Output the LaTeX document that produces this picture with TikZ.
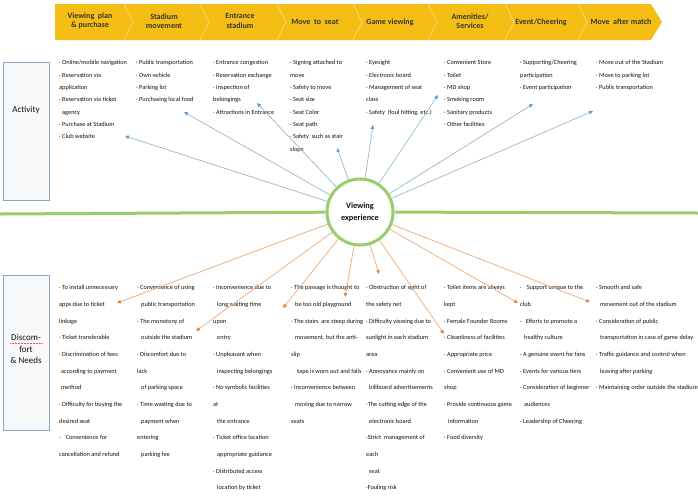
\documentclass[tikz,border=0pt]{standalone}
\usepackage{fontspec}
\setmainfont{Carlito}
\usetikzlibrary{arrows.meta}
\definecolor{hdrY}{HTML}{F5BE15}
\definecolor{hdrSep}{HTML}{F9D870}
\definecolor{boxB}{HTML}{8AA6C4}
\definecolor{boxF}{HTML}{F7F8FA}
\definecolor{ringG}{HTML}{9BCB6A}
\definecolor{blueL}{HTML}{9FBFD8}
\definecolor{blueH}{HTML}{5B9BD5}
\definecolor{orgL}{HTML}{F2B184}
\definecolor{orgH}{HTML}{ED7D31}
\definecolor{txt}{HTML}{111111}
\newcommand\fstrut{\rule{0pt}{4.7pt}}
\begin{document}
\begin{tikzpicture}[x=1pt,y=-1pt,
  hdr/.style={font=\fontsize{8}{9.5}\selectfont\bfseries, text=txt!85, align=center, inner sep=0pt},
  acttxt/.style={font=\fontsize{6.3}{12.3}\selectfont, text=txt, align=left, anchor=north west, inner sep=0pt},
  distxt/.style={font=\fontsize{6.3}{16.65}\selectfont, text=txt, align=left, anchor=north west, inner sep=0pt},
  sidebox/.style={draw=boxB, line width=1pt, fill=boxF, inner sep=0pt, anchor=north west},
  sidelbl/.style={font=\fontsize{9}{11.5}\selectfont, text=txt, align=center, inner sep=0pt},
  barrow/.style={draw=blueL, line width=0.8pt, -{Triangle[length=4pt,width=3.5pt,color=blueH]}},
  oarrow/.style={draw=orgL, line width=0.8pt, -{Triangle[length=4pt,width=3.5pt,color=orgH]}},
  gline/.style={draw=ringG, line width=3pt}
]
\useasboundingbox (0,0) rectangle (698,498);
% header banner
\fill[hdrY] (55,4) -- (651,4) -- (662,22) -- (651,40) -- (55,40) -- cycle;
\foreach \sx in {124,200,277,353,428,505,578}{
  \draw[hdrSep, line width=0.8pt] (\sx,4) -- (\sx+9,22) -- (\sx,40);
}
\node[hdr] (h1) at (90,21) {Viewing\ \ plan\\\& purchase};
\node[hdr] (h2) at (164,21) {Stadium\\movement};
\node[hdr] (h3) at (240,21) {Entrance\\stadium};
\node[hdr] (h4) at (315,22) {Move\ \ to\ \ seat};
\node[hdr] (h5) at (390,22) {Game viewing};
\node[hdr] (h6) at (470,21) {Amenities/\\Services};
\node[hdr] (h7) at (541,22) {Event/Cheering};
\node[hdr] (h8) at (621,22) {Move\ \ after match};

% side boxes
\node[sidebox, minimum width=46pt, minimum height=138pt] (actbox) at (3,62) {};
\node[sidelbl] (actlbl) at (26,110) {Activity};
\node[sidebox, minimum width=46pt, minimum height=155pt] (disbox) at (3,275) {};
\node[sidelbl] (dislbl) at (26,349) {Discom-\\fort\\\& Needs};
\draw[red!70, line width=0.5pt, densely dotted] (10,343) -- (43,343);

% center
\coordinate (gl) at (0,214);
\coordinate (gr) at (698,213);
\node[circle, draw=ringG, line width=3pt, fill=white, minimum size=66pt, inner sep=0pt,
      font=\fontsize{8.3}{12}\selectfont\bfseries, text=txt, align=center] (c) at (360,212) {Viewing\\experience};
\draw[gline] (gl) -- (c);
\draw[gline] (c) -- (gr);

% activity texts
\node[acttxt] (act1) at (59,60) {\fstrut· Online/mobile navigation\\· Reservation via\\application\\· Reservation via ticket\\\hspace*{3pt}agency\\· Purchase at Stadium\\· Club website};
\node[acttxt] (act2) at (136,60) {\fstrut· Public transportation\\· Own vehicle\\· Parking lot\\· Purchasing local food};
\node[acttxt] (act3) at (213,60) {\fstrut· Entrance congestion\\· Reservation exchange\\· Inspection of\\belongings\\· Attractions in Entrance};
\node[acttxt] (act4) at (290,60) {\fstrut· Signing attached to\\move\\· Safety to move\\· Seat size\\· Seat Color\\· Seat path\\· Safety\ \ such as stair\\slope};
\node[acttxt] (act5) at (366,60) {\fstrut· Eyesight\\· Electronic board\\· Management of seat\\class\\· Safety\ \ (foul hitting, etc.)};
\node[acttxt] (act6) at (444,60) {\fstrut· Convenient Store\\· Toilet\\· MD shop\\· Smoking room\\· Sanitary products\\· Other facilities};
\node[acttxt] (act7) at (520,60) {\fstrut· Supporting/Cheering\\participation\\· Event participation};
\node[acttxt] (act8) at (596,60) {\fstrut· Move out of the Stadium\\· Move to parking lot\\· Public transportation};

% discomfort texts
\node[distxt] (dis1) at (59,285) {\fstrut· To install unnecessary\\apps due to ticket\\linkage\\· Ticket transferable\\· Discrimination of fees\\\hspace*{2pt}according to payment\\\hspace*{2pt}method\\· Difficulty for buying the\\desired seat\\·\hspace{5pt}Convenience for\\cancellation and refund};
\node[distxt] (dis2) at (137,285) {\fstrut· Convenience of using\\\hspace*{4pt}public transportation\\· The monotony of\\\hspace*{4pt}outside the stadium\\· Discomfort due to\\lack\\\hspace*{4pt}of parking space\\· Time wasting due to\\\hspace*{4pt}payment when\\entering\\\hspace*{4pt}parking fee};
\node[distxt] (dis3) at (213,285) {\fstrut· Inconvenience due to\\\hspace*{4pt}long waiting time\\upon\\\hspace*{4pt}entry\\· Unpleasant when\\\hspace*{4pt}inspecting belongings\\· No symbolic facilities\\at\\\hspace*{4pt}the entrance\\· Ticket office location\\\hspace*{4pt}appropriate guidance\\· Distributed access\\\hspace*{4pt}location by ticket};
\node[distxt] (dis4) at (291,285) {\fstrut· The passage is thought to\\\hspace*{4pt}be too old playground\\· The stairs\ \ are steep during\\\hspace*{4pt}movement, but the anti-\\slip\\\hspace*{6pt}tape is worn out and falls\\· Inconvenience between\\\hspace*{4pt}moving due to narrow\\seats};
\node[distxt] (dis5) at (366,285) {\fstrut· Obstruction of sight of\\the safety net\\· Difficulty viewing due to\\sunlight in each stadium\\area\\· Annoyance mainly on\\\hspace*{3pt}billboard advertisements\\·The cutting edge of the\\\hspace*{3pt}electronic board\\·Strict\ \ management of\\each\\\hspace*{3pt}seat\\·Fouling risk};
\node[distxt] (dis6) at (444,285) {\fstrut· Toilet items are always\\kept\\· Female Founder Rooms\\· Cleanliness of facilities\\· Appropriate price\\· Convenient use of MD\\shop\\· Provide continuous game\\\hspace*{4pt}information\\· Food diversity};
\node[distxt] (dis7) at (520,285) {\fstrut·\hspace{5pt}Support unique to the\\club\\·\hspace{4pt}Efforts to promote a\\\hspace*{4pt}healthy culture\\· A genuine event for fans\\· Events for various tiers\\· Consideration of beginner\\\hspace*{4pt}audiences\\· Leadership of Cheering};
\node[distxt] (dis8) at (596,285) {\fstrut· Smooth and safe\\\hspace*{4pt}movement out of the stadium\\· Consideration of public\\\hspace*{4pt}transportation in case of game delay\\· Traffic guidance and control when\\\hspace*{4pt}leaving after parking\\· Maintaining order outside the stadium};

% arrow end points
\coordinate (b1) at (125,136);
\coordinate (b2) at (184,112);
\coordinate (b3) at (257,103);
\coordinate (b4) at (337,148);
\coordinate (b5) at (373,125);
\coordinate (b6) at (438,95);
\coordinate (b7) at (533,104);
\coordinate (b8) at (593,111);
\coordinate (o1) at (117,303);
\coordinate (o2) at (196,331);
\coordinate (o3) at (283,308);
\coordinate (o4) at (345,297);
\coordinate (o5) at (379,274);
\coordinate (o6) at (444,334);
\coordinate (o7) at (518,303);
\coordinate (o8) at (590,302);
\foreach \t in {b1,b2,b3,b4,b5,b6,b7,b8}{\draw[barrow] (c) -- (\t);}
\foreach \t in {o1,o2,o3,o4,o5,o6,o7,o8}{\draw[oarrow] (c) -- (\t);}
\end{tikzpicture}
\end{document}
